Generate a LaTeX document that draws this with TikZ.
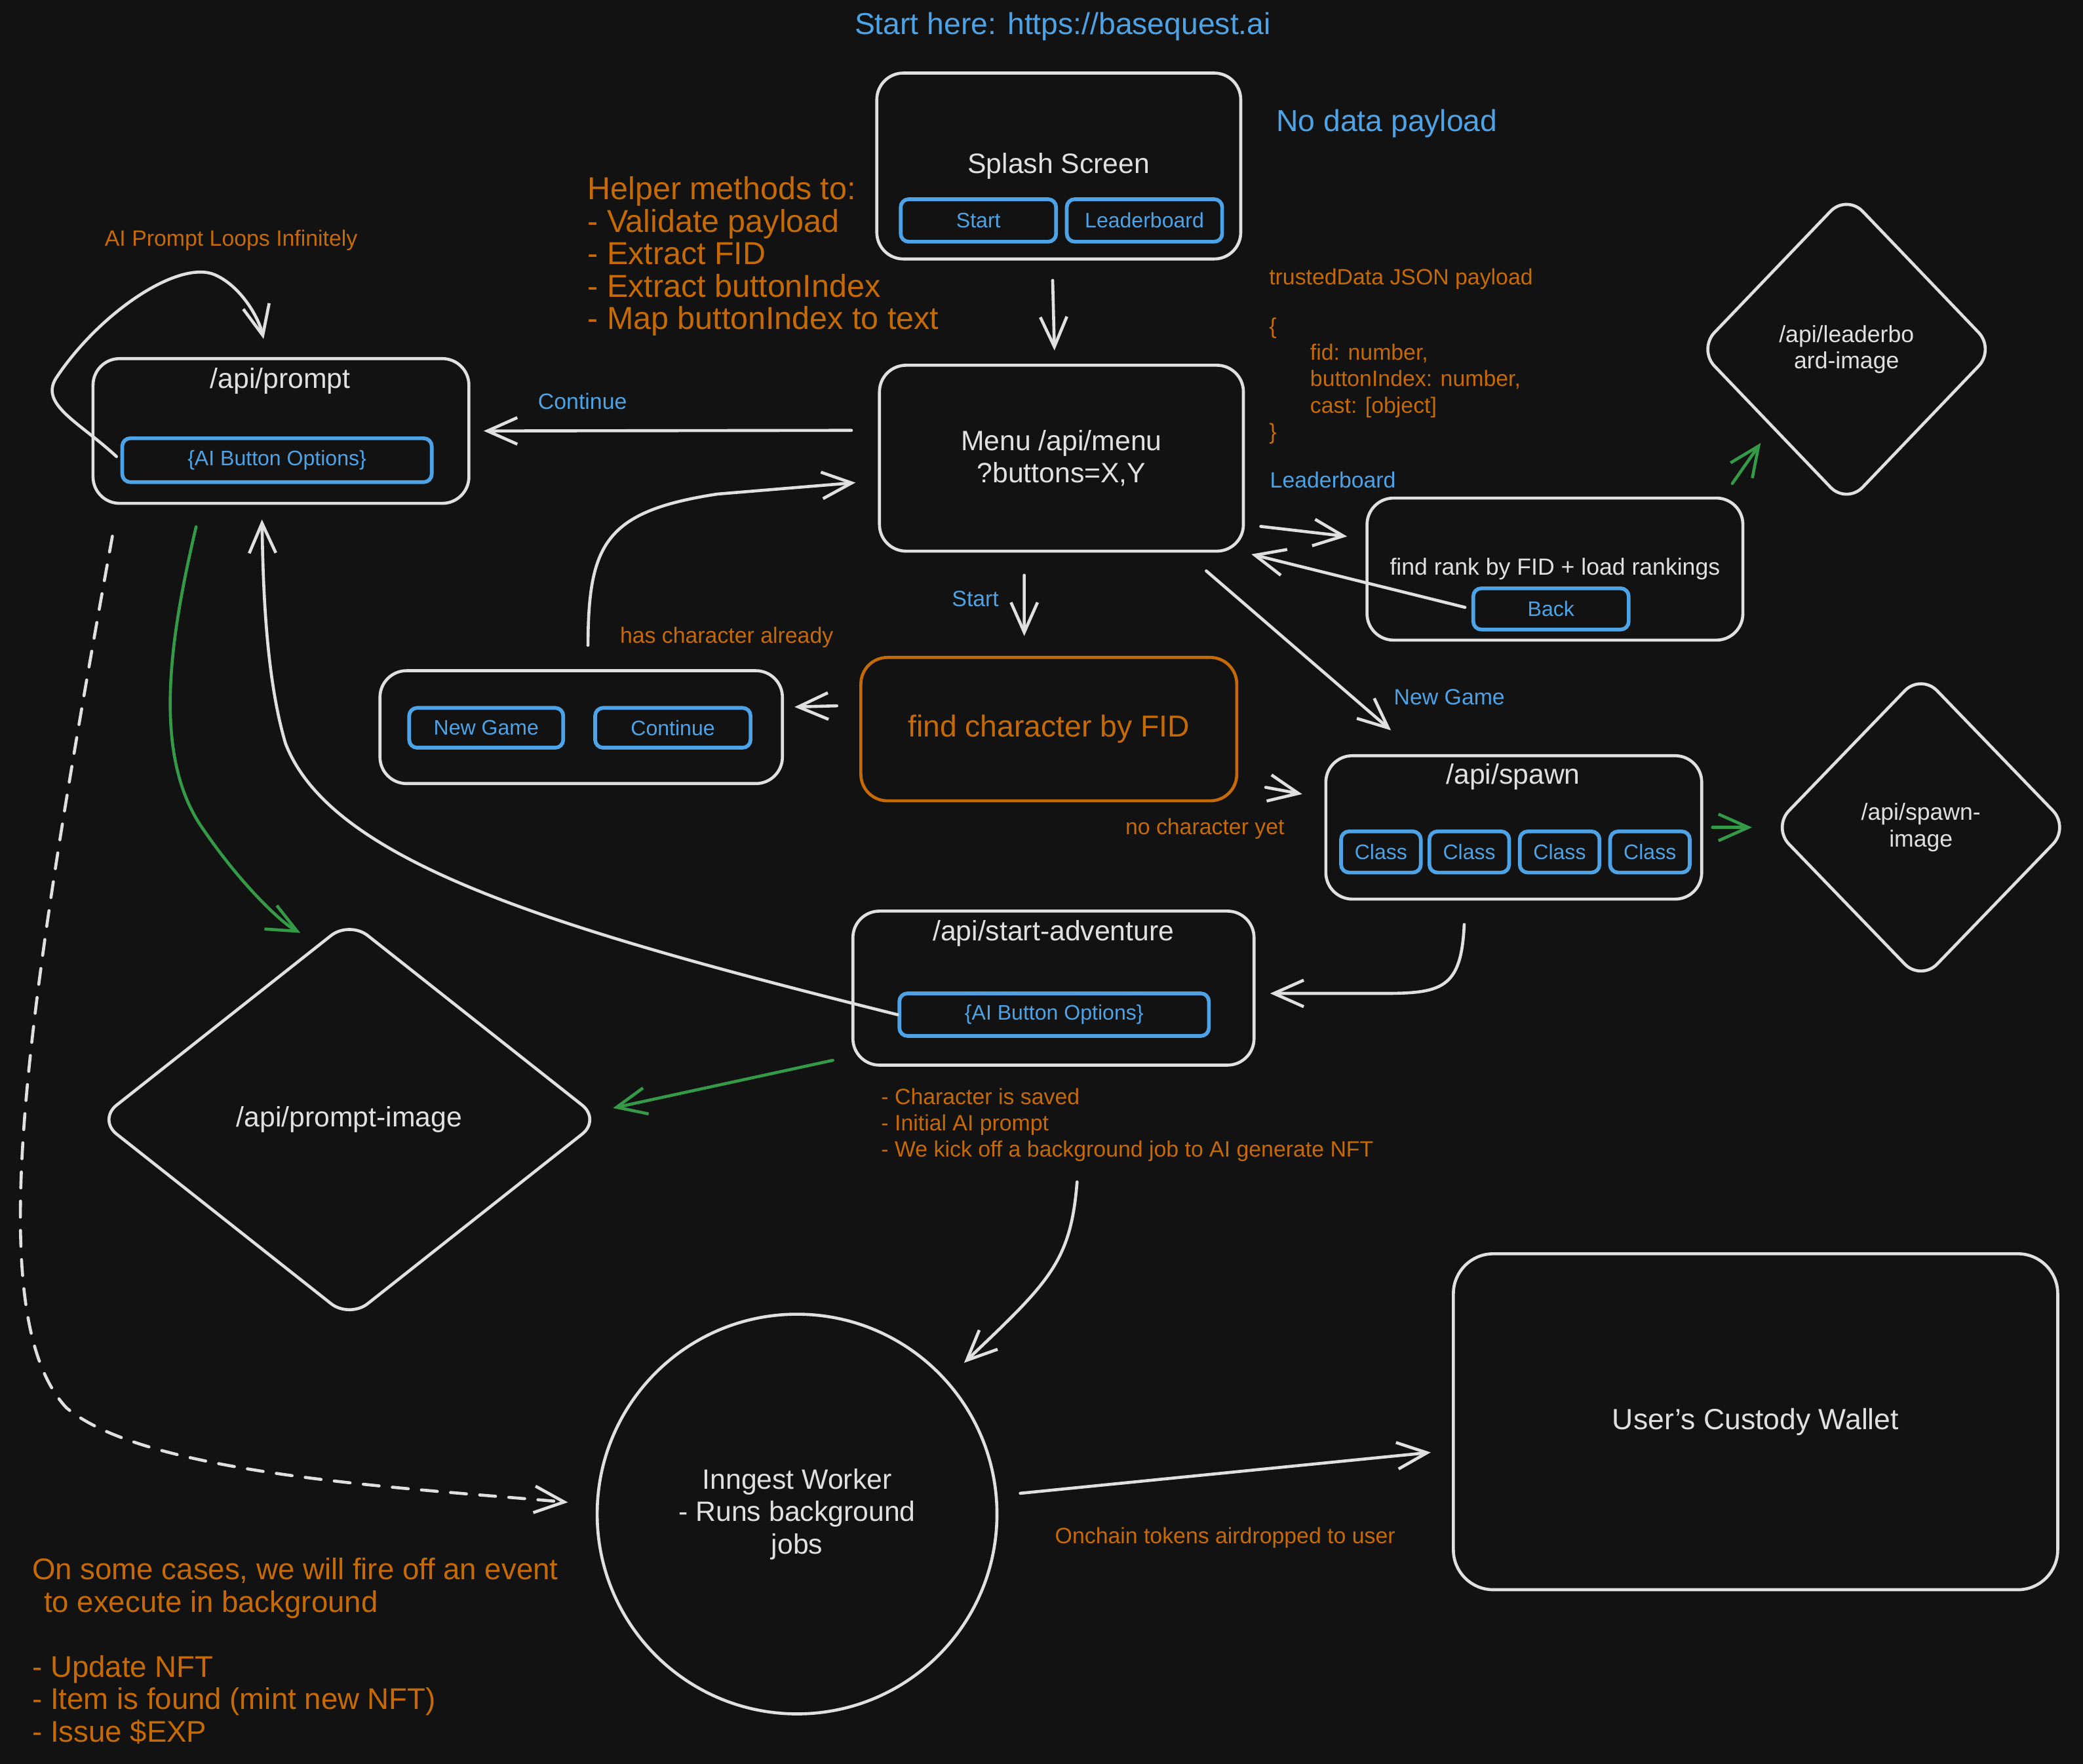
\documentclass[tikz,border=0pt]{standalone}
\usepackage{fontspec}
\setmainfont{Liberation Sans}
\usetikzlibrary{arrows.meta, shapes.geometric}
\definecolor{BgColor}{RGB}{18,18,18}
\definecolor{InkColor}{RGB}{224,224,224}
\definecolor{ButtonColor}{RGB}{77,163,230}
\definecolor{NoteColor}{RGB}{197,106,5}
\definecolor{ImageColor}{RGB}{53,154,72}

\begin{document}
\begin{tikzpicture}[
    x=0.02cm, y=-0.02cm,
    box/.style={
        draw=InkColor, line width=1.3pt, rounded corners=0.4cm,
        text=InkColor, align=center, inner sep=0pt,
        font=\fontsize{12}{14}\selectfont
    },
    btn/.style={
        draw=ButtonColor, line width=1.6pt, rounded corners=0.12cm,
        text=ButtonColor, minimum height=0.64cm, inner sep=0pt,
        font=\fontsize{9}{11}\selectfont
    },
    imgdiamond/.style={
        shape=diamond, draw=InkColor, line width=1.3pt, rounded corners=0.35cm,
        text=InkColor, align=center, inner sep=0pt,
        font=\fontsize{10}{11.3}\selectfont
    },
    heading/.style={text=InkColor, inner sep=0pt, font=\fontsize{12}{14}\selectfont},
    note/.style={text=NoteColor, align=left, inner sep=0pt, font=\fontsize{9.5}{11.3}\selectfont},
    lbl/.style={text=ButtonColor, inner sep=0pt, font=\fontsize{9.5}{11.3}\selectfont},
    arr/.style={draw=InkColor, line width=1.3pt, line cap=round,
        -{Straight Barb[length=4.5mm, width=4mm]}},
    garr/.style={arr, draw=ImageColor},
]

\useasboundingbox (0,0) rectangle (1568,1328);
\fill[BgColor] (0,0) rectangle (1568,1328);

%% Entry
\node[lbl, font=\fontsize{13}{15}\selectfont] (starturl) at (800,20)
    {Start here: https://basequest.ai};
\node[box, minimum width=5.48cm, minimum height=2.8cm] (splash) at (797,125) {Splash Screen};
\node[btn, minimum width=2.34cm] (splashStart) at (736.5,166) {Start};
\node[btn, minimum width=2.34cm] (splashLead) at (861.5,166) {Leaderboard};
\node[lbl, font=\fontsize{13}{15}\selectfont] (nopayload) at (1044,93) {No data payload};

\node[note, font=\fontsize{13.6}{13.9}\selectfont, anchor=west] (helpers) at (442,193)
    {Helper methods to:\\- Validate payload\\- Extract FID\\- Extract buttonIndex\\- Map buttonIndex to text};

%% Prompt loop
\node[note] (loopnote) at (174,181) {AI Prompt Loops Infinitely};
\node[box, minimum width=5.66cm, minimum height=2.18cm] (prompt) at (211.5,324.5) {};
\node[heading] (promptT) at (211,287) {/api/prompt};
\node[btn, minimum width=4.66cm, minimum height=0.66cm] (promptBtn) at (208.5,346.5)
    {\{AI Button Options\}};

%% Menu
\node[box, minimum width=5.48cm, minimum height=2.8cm] (menu) at (799,345)
    {Menu /api/menu\\?buttons=X,Y};
\node[note, anchor=north west] (payload) at (955,202)
    {trustedData JSON payload\\[9.7pt]\{\\\hspace*{17.6pt}fid: number,\\\hspace*{17.6pt}buttonIndex: number,\\\hspace*{17.6pt}cast: [object]\\\}};

%% Leaderboard
\node[box, font=\fontsize{10}{12}\selectfont, minimum width=5.66cm, minimum height=2.14cm]
    (lead) at (1170.5,428.5) {find rank by FID + load rankings};
\node[btn, minimum width=2.34cm, minimum height=0.62cm] (leadBack) at (1167.5,458.5) {Back};
\node[imgdiamond, minimum width=4.48cm, minimum height=4.68cm] (leadImg) at (1390,263)
    {/api/leaderbo\\ard-image};

%% Character lookup
\node[box, draw=NoteColor, text=NoteColor, font=\fontsize{13}{15}\selectfont,
      minimum width=5.66cm, minimum height=2.16cm] (findChar) at (789.5,549) {find character by FID};
\node[box, minimum width=6.06cm, minimum height=1.7cm] (choice) at (437.5,547.5) {};
\node[btn, minimum width=2.32cm, minimum height=0.6cm] (choiceNew) at (366,548) {New Game};
\node[btn, minimum width=2.34cm, minimum height=0.6cm] (choiceCont) at (506.5,548) {Continue};
\node[note] (hasChar) at (547,480) {has character already};

%% Spawn
\node[box, minimum width=5.66cm, minimum height=2.16cm] (spawn) at (1139.5,623) {};
\node[heading] (spawnT) at (1139,585) {/api/spawn};
\foreach \cx [count=\i] in {1039.5,1106,1174,1242}
    \node[btn, minimum width=1.2cm, minimum height=0.62cm] (class\i) at (\cx,641.5) {Class};
\node[imgdiamond, minimum width=4.48cm, minimum height=4.64cm] (spawnImg) at (1446,623)
    {/api/spawn-\\image};
\node[note] (noChar) at (907,624) {no character yet};
\node[lbl] (newGameLbl) at (1091,525) {New Game};

%% Start adventure
\node[box, minimum width=6.04cm, minimum height=2.32cm] (adventure) at (793,744) {};
\node[heading] (adventureT) at (793,703) {/api/start-adventure};
\node[btn, minimum width=4.66cm, minimum height=0.64cm] (adventureBtn) at (793.5,764)
    {\{AI Button Options\}};
\node[note, anchor=west] (adventureNote) at (663,847)
    {- Character is saved\\- Initial AI prompt\\- We kick off a background job to AI generate NFT};
\node[imgdiamond, minimum width=7.58cm, minimum height=6.0cm, font=\fontsize{12}{14}\selectfont]
    (promptImg) at (263,843) {/api/prompt-image};

%% Background work
\node[draw=InkColor, line width=1.3pt, circle, minimum size=6.02cm, inner sep=0pt,
      text=InkColor, align=center, font=\fontsize{12}{13.9}\selectfont]
    (inngest) at (600,1140) {Inngest Worker\\- Runs background\\jobs};
\node[note, font=\fontsize{12.8}{13.9}\selectfont, anchor=west] (eventNote) at (24,1243)
    {On some cases, we will fire off an event\\\hspace*{5pt}to execute in background\\[13.9pt]- Update NFT\\- Item is found (mint new NFT)\\- Issue \$EXP};
\node[box, rounded corners=0.6cm, minimum width=9.1cm, minimum height=5.06cm,
      font=\fontsize{12.5}{15}\selectfont] (wallet) at (1321.5,1070.5) {User's Custody Wallet};

%% Connectors
\draw[arr, shorten <=0.3cm, shorten >=0.2cm] ([xshift=-0.1cm]splash.south) -- ([xshift=-0.1cm]menu.north);
\draw[arr, shorten <=0.4cm, shorten >=0.2cm] ([yshift=0.42cm]menu.west)
    -- node[lbl, pos=0.725, above=0.3cm] (contLbl) {Continue} (prompt.east);
\draw[arr, shorten <=0.08cm, shorten >=0.28cm] (promptBtn.west)
    .. controls (60,318) and (30,305) .. (42,285)
    .. controls (75,235) and (135,195) .. (162,207)
    .. controls (182,216) and (195,240) .. ([xshift=-0.2cm]prompt.north);

\draw[arr, shorten <=0.24cm, shorten >=0.28cm] ([yshift=-1cm]menu.east)
    -- node[lbl, pos=0.73, above=0.68cm] (leadLbl) {Leaderboard} ([yshift=0.46cm]lead.west);
\draw[arr, shorten <=0.1cm, shorten >=0.1cm] (leadBack.west) -- (menu.south east);
\draw[garr, shorten <=0.24cm, shorten >=0.28cm] ([xshift=-0.32cm]lead.north east) -- (leadImg.south west);

\draw[arr, shorten <=0.34cm, shorten >=0.3cm] ([xshift=-0.56cm]menu.south)
    -- node[lbl, pos=0.45, left=0.36cm] (startLbl) {Start} ([xshift=-0.37cm]findChar.north);
\draw[arr, shorten <=0.34cm, shorten >=0.16cm] ([yshift=0.36cm]findChar.west) -- ([yshift=0.3cm]choice.east);
\draw[arr, shorten <=0.36cm, shorten >=0.34cm] ([xshift=0.1cm]choice.north)
    .. controls (443,410) and (455,385) .. (540,372) -- ([yshift=-0.34cm]menu.west);

\draw[arr, shorten <=0.42cm, shorten >=0.55cm] ([xshift=-0.9cm]menu.south east) -- ([xshift=1.42cm]spawn.north west);
\draw[arr, shorten <=0.42cm, shorten >=0.34cm] ([yshift=-0.8cm]findChar.east) -- ([yshift=0.44cm]spawn.west);
\draw[garr, shorten <=0.14cm, shorten >=0.28cm] (spawn.east) -- (spawnImg.west);
\draw[arr, shorten <=0.36cm, shorten >=0.22cm] ([xshift=-0.73cm]spawn.south)
    .. controls (1100,745) and (1085,748) .. (1040,748) -- ([yshift=-0.08cm]adventure.east);

\draw[arr, shorten >=0.22cm] (adventureBtn.west)
    .. controls (420,700) and (250,650) .. (215,560)
    .. controls (200,510) and (198,440) .. ([xshift=-0.29cm]prompt.south);
\draw[garr, shorten <=0.34cm, shorten >=0.02cm] ([xshift=-1.2cm]prompt.south)
    .. controls (128,480) and (115,565) .. (150,620)
    .. controls (180,665) and (212,695) .. ([xshift=-0.72cm,yshift=-0.22cm]promptImg.north);
\draw[garr, shorten <=0.02cm, shorten >=0.16cm] ([xshift=-0.26cm,yshift=0.1cm]adventure.south west)
    -- ([yshift=0.14cm]promptImg.east);

\draw[arr, shorten <=0.3cm, shorten >=0.36cm] ([xshift=2.98cm]adventureNote.south west)
    .. controls (806,950) and (790,965) .. (inngest.42);
\draw[arr, dash pattern=on 0.24cm off 0.2cm, shorten <=0.48cm, shorten >=0.42cm]
    ([xshift=0.4cm]prompt.south west)
    .. controls (20,760) and (-15,990) .. (50,1060)
    .. controls (110,1110) and (300,1120) .. ([yshift=0.14cm]inngest.west);
\draw[arr, shorten <=0.33cm, shorten >=0.32cm] ([yshift=0.28cm]inngest.east)
    -- node[note, pos=0.5, below=0.8cm] (airdropLbl) {Onchain tokens airdropped to user} ([yshift=-0.43cm]wallet.west);

\end{tikzpicture}
\end{document}
